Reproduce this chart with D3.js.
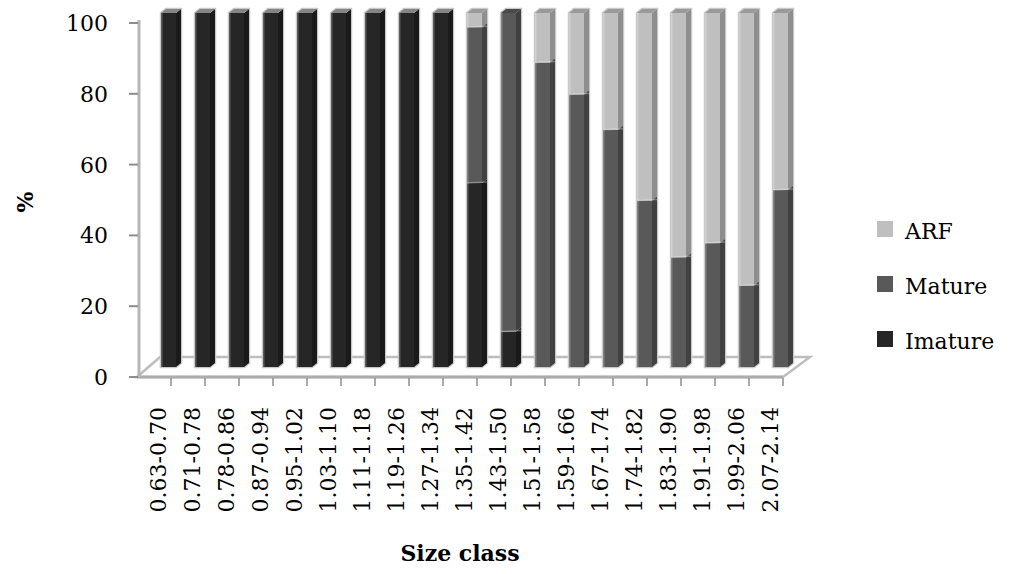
<!DOCTYPE html>
<html>
<head>
<meta charset="utf-8">
<script src="https://cdn.jsdelivr.net/npm/d3@7"></script>
<style>
  body { margin: 0; background: #fff; }
  svg { display: block; }
</style>
</head>
<body>
<div id="vis"></div>
<script>
const categorias = ["0.63-0.70", "0.71-0.78", "0.78-0.86", "0.87-0.94", "0.95-1.02", "1.03-1.10",
    "1.11-1.18", "1.19-1.26", "1.27-1.34", "1.35-1.42", "1.43-1.50", "1.51-1.58", "1.59-1.66",
    "1.67-1.74", "1.74-1.82", "1.83-1.90", "1.91-1.98", "1.99-2.06", "2.07-2.14"];
const imature = [100, 100, 100, 100, 100, 100, 100, 100, 100, 52, 10, 0, 0, 0, 0, 0, 0, 0, 0];
const mature = [0, 0, 0, 0, 0, 0, 0, 0, 0, 44, 90, 86, 77, 67, 47, 31, 35, 23, 50];
const arf = [0, 0, 0, 0, 0, 0, 0, 0, 0, 4, 0, 14, 23, 33, 53, 69, 65, 77, 50];
const series = ["Imature", "Mature", "ARF"];
const yTicks = [0, 20, 40, 60, 80, 100];

const WIDTH = 1014;
const HEIGHT = 574;
const FONT = "DejaVu Serif";

const SVG = d3.select("#vis").append("svg").attr("width", WIDTH).attr("height", HEIGHT);

// colores: frente, lado, arriba
const colores = {
    "Imature": { front: "#262626", side: "#1a1a1a", top: "#858585" },
    "Mature": { front: "#595959", side: "#414141", top: "#4a4a4a" },
    "ARF": { front: "#bfbfbf", side: "#8e8e8e", top: "#9a9a9a" }
};

const tabla = categorias.map((c, i) => ({ cat: c, Imature: imature[i], Mature: mature[i], ARF: arf[i] }));
const stack = d3.stack().keys(series)(tabla);

const x = d3.scaleBand().domain(categorias).range([137, 783]);
const y = d3.scaleLinear().domain([0, 100]).range([377, 23]);

// desplazamiento de profundidad (3D)
const depthX = 23, depthY = -20;
const barOffset = 24, barW = 15, sideX = 5, sideY = 4, barShiftY = -10;

// Piso -------------------------------------------------------------------
const piso = [
    [x.range()[0], y(0)], [x.range()[1], y(0)],
    [x.range()[1] + depthX + 4, y(0) + depthY], [x.range()[0] + depthX, y(0) + depthY]
];
SVG.append("polygon")
    .attr("points", piso.map(p => p.join(",")).join(" "))
    .attr("fill", "none")
    .attr("stroke", "#bdbdbd")
    .attr("stroke-width", 2.5);

SVG.append("line")
    .attr("x1", x.range()[0]).attr("x2", x.range()[1])
    .attr("y1", y(0)).attr("y2", y(0))
    .attr("stroke", "#ababab").attr("stroke-width", 3);

// Eje Y ------------------------------------------------------------------
SVG.append("line")
    .attr("x1", 139).attr("x2", 139)
    .attr("y1", y(100) - 3).attr("y2", y(0))
    .attr("stroke", "#b5b5b5").attr("stroke-width", 3);

SVG.selectAll(".ytick")
    .data(yTicks)
    .enter()
    .append("line")
    .attr("x1", 129).attr("x2", 138)
    .attr("y1", d => y(d)).attr("y2", d => y(d))
    .attr("stroke", "#8c8c8c").attr("stroke-width", 2);

SVG.selectAll(".ylabel")
    .data(yTicks)
    .enter()
    .append("text")
    .attr("x", 108)
    .attr("y", d => y(d))
    .attr("dy", "0.36em")
    .attr("text-anchor", "end")
    .attr("font-family", FONT)
    .attr("font-size", "22px")
    .attr("fill", "#000")
    .text(d => d);

SVG.append("text")
    .attr("transform", "translate(25,202) rotate(-90)")
    .attr("text-anchor", "middle")
    .attr("dy", "0.35em")
    .attr("font-family", FONT)
    .attr("font-weight", "bold")
    .attr("font-size", "22px")
    .text("%");

// Eje X ------------------------------------------------------------------
SVG.selectAll(".xtick")
    .data(categorias)
    .enter()
    .append("line")
    .attr("x1", d => x(d) + x.bandwidth()).attr("x2", d => x(d) + x.bandwidth())
    .attr("y1", y(0) + 1).attr("y2", y(0) + 9)
    .attr("stroke", "#8c8c8c").attr("stroke-width", 1.5);

SVG.selectAll(".xlabel")
    .data(categorias)
    .enter()
    .append("text")
    .attr("transform", d => `translate(${x(d) + x.bandwidth() / 2 + 4},407) rotate(-90)`)
    .attr("text-anchor", "end")
    .attr("dy", "0.35em")
    .attr("font-family", FONT)
    .attr("font-size", "22px")
    .text(d => d);

SVG.append("text")
    .attr("x", 460)
    .attr("y", 561)
    .attr("text-anchor", "middle")
    .attr("font-family", FONT)
    .attr("font-weight", "bold")
    .attr("font-size", "22px")
    .text("Size class");

// Barras -----------------------------------------------------------------
const pts = arr => arr.map(p => p.join(",")).join(" ");

tabla.forEach((d, i) => {
    const xl = x(d.cat) + barOffset;
    const xr = xl + barW;
    const yb = y(0) + barShiftY;
    const yt = y(100) + barShiftY;
    const g = SVG.append("g").attr("class", "barra");

    // halo claro alrededor de la barra
    g.append("polygon")
        .attr("points", pts([[xl, yb], [xl, yt], [xl + sideX, yt - sideY], [xr + sideX, yt - sideY], [xr + sideX, yb - sideY], [xr, yb]]))
        .attr("fill", "none")
        .attr("stroke", "#c9c9c9")
        .attr("stroke-width", 2.5);

    stack.forEach(s => {
        const seg = s[i];
        if (seg[1] - seg[0] <= 0) return;
        const c = colores[s.key];
        const y0 = y(seg[0]) + barShiftY;
        const y1 = y(seg[1]) + barShiftY;

        g.append("rect")
            .attr("x", xl).attr("y", y1)
            .attr("width", barW).attr("height", y0 - y1)
            .attr("fill", c.front);

        g.append("polygon")
            .attr("points", pts([[xr, y1], [xr + sideX, y1 - sideY], [xr + sideX, y0 - sideY], [xr, y0]]))
            .attr("fill", c.side);

        g.append("polygon")
            .attr("points", pts([[xl, y1], [xl + sideX, y1 - sideY], [xr + sideX, y1 - sideY], [xr, y1]]))
            .attr("fill", c.top);

        // borde izquierdo más claro
        g.append("line")
            .attr("x1", xl + 0.75).attr("x2", xl + 0.75)
            .attr("y1", y1).attr("y2", y0)
            .attr("stroke", "#ffffff").attr("stroke-opacity", 0.25).attr("stroke-width", 1.5);

        if (seg[0] > 0) {
            g.append("line")
                .attr("x1", xl).attr("x2", xr + sideX)
                .attr("y1", y0).attr("y2", y0 - 1)
                .attr("stroke", "#ffffff").attr("stroke-opacity", 0.3).attr("stroke-width", 1.5);
        }
    });
});

// Leyenda ----------------------------------------------------------------
const leyenda = ["ARF", "Mature", "Imature"];
const leg = SVG.append("g").attr("transform", "translate(877,221)");

leg.selectAll("rect")
    .data(leyenda)
    .enter()
    .append("rect")
    .attr("x", 0)
    .attr("y", (d, i) => 55 * i)
    .attr("width", 16)
    .attr("height", 16)
    .attr("fill", d => colores[d].front);

leg.selectAll("text")
    .data(leyenda)
    .enter()
    .append("text")
    .attr("x", 28)
    .attr("y", (d, i) => 55 * i + 18)
    .attr("font-family", FONT)
    .attr("font-size", "22px")
    .text(d => d);
</script>
</body>
</html>
